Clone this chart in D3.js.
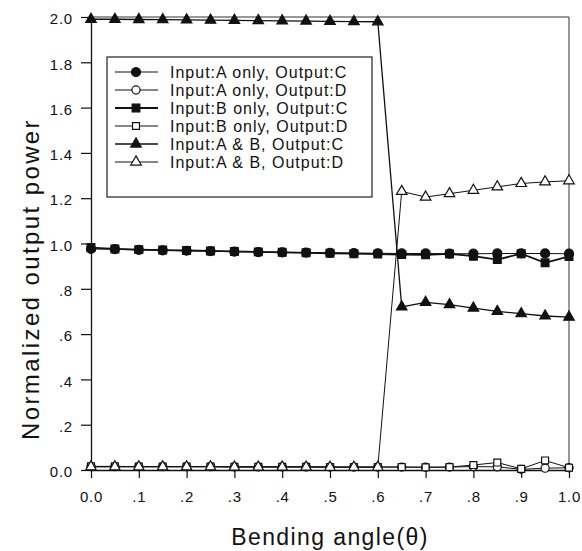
<!DOCTYPE html>
<html>
<head>
<meta charset="utf-8">
<script src="https://cdn.jsdelivr.net/npm/d3@7"></script>
<style>
  html, body { margin: 0; padding: 0; background: #fff; }
  svg text { font-family: "Liberation Sans", Arial, sans-serif; fill: #111; }
</style>
</head>
<body>
<svg id="chart" width="582" height="551"></svg>
<script>
// Bending angle (θ) samples
const angles = [0.00, 0.05, 0.10, 0.15, 0.20, 0.25, 0.30, 0.35, 0.40, 0.45, 0.50,
                0.55, 0.60, 0.65, 0.70, 0.75, 0.80, 0.85, 0.90, 0.95, 1.00];

// Normalized output power for each input/output combination
const aOnlyC = [0.976, 0.975, 0.972, 0.970, 0.968, 0.966, 0.964, 0.962, 0.961, 0.960, 0.959,
                0.958, 0.957, 0.956, 0.956, 0.955, 0.955, 0.956, 0.956, 0.956, 0.955];
const aOnlyD = [0.015, 0.015, 0.015, 0.015, 0.015, 0.015, 0.014, 0.014, 0.014, 0.014, 0.013,
                0.013, 0.013, 0.013, 0.012, 0.013, 0.015, 0.014, 0.003, 0.008, 0.010];
const bOnlyC = [0.982, 0.976, 0.973, 0.971, 0.969, 0.967, 0.965, 0.963, 0.961, 0.959, 0.957,
                0.955, 0.953, 0.951, 0.950, 0.954, 0.944, 0.929, 0.955, 0.915, 0.943];
const bOnlyD = [0.016, 0.016, 0.015, 0.015, 0.015, 0.015, 0.014, 0.014, 0.014, 0.014, 0.013,
                0.013, 0.013, 0.013, 0.012, 0.013, 0.022, 0.033, 0.005, 0.042, 0.010];
const abC    = [1.990, 1.990, 1.989, 1.988, 1.987, 1.986, 1.985, 1.984, 1.983, 1.982, 1.981,
                1.980, 1.979, 0.720, 0.740, 0.730, 0.715, 0.700, 0.690, 0.680, 0.675];
const abD    = [0.014, 0.014, 0.014, 0.014, 0.014, 0.014, 0.013, 0.013, 0.013, 0.013, 0.012,
                0.012, 0.012, 1.230, 1.205, 1.220, 1.235, 1.250, 1.265, 1.272, 1.277];

const seriesNames = ["Input:A only, Output:C", "Input:A only, Output:D",
                     "Input:B only, Output:C", "Input:B only, Output:D",
                     "Input:A & B, Output:C",  "Input:A & B, Output:D"];
const seriesValues = [aOnlyC, aOnlyD, bOnlyC, bOnlyD, abC, abD];

// Tick values and their printed labels
const xTicks = [0, 0.1, 0.2, 0.3, 0.4, 0.5, 0.6, 0.7, 0.8, 0.9, 1.0];
const xTickLabels = ["0.0", ".1", ".2", ".3", ".4", ".5", ".6", ".7", ".8", ".9", "1.0"];
const yTicks = [0, 0.2, 0.4, 0.6, 0.8, 1.0, 1.2, 1.4, 1.6, 1.8, 2.0];
const yTickLabels = ["0.0", ".2", ".4", ".6", ".8", "1.0", "1.2", "1.4", "1.6", "1.8", "2.0"];

const xTitle = "Bending angle(θ)";
const yTitle = "Normalized output power";

// Marker style per series
const markerStyle = [
  { shape: d3.symbolCircle,   size: 64, filled: true,  lw: 1.1 },
  { shape: d3.symbolCircle,   size: 52, filled: false, lw: 1.0 },
  { shape: d3.symbolSquare,   size: 60, filled: true,  lw: 1.8 },
  { shape: d3.symbolSquare,   size: 48, filled: false, lw: 1.0 },
  { shape: d3.symbolTriangle, size: 48, filled: true,  lw: 1.3 },
  { shape: d3.symbolTriangle, size: 48, filled: false, lw: 1.0 }
];

const svg = d3.select("#chart");
const plotLeft = 91, plotRight = 569, plotTop = 17, plotBottom = 470;

const x = d3.scaleLinear().domain([0, 1]).range([plotLeft, plotRight]);
const y = d3.scaleLinear().domain([0, 2]).range([plotBottom, plotTop]);

// Frame (top and right edges)
svg.append("path")
  .attr("d", `M${x(0)},${y(2)}H${x(1)}V${y(0)}`)
  .attr("fill", "none").attr("stroke", "#333").attr("stroke-width", 1);

// Axes
const yAxis = d3.axisLeft(y).tickValues(yTicks)
  .tickFormat((d, i) => yTickLabels[i]).tickSize(10).tickSizeOuter(0).tickPadding(6);
const gy = svg.append("g").attr("transform", `translate(${plotLeft},0)`).call(yAxis);

const xAxis = d3.axisBottom(x).tickValues(xTicks)
  .tickFormat((d, i) => xTickLabels[i]).tickSize(8).tickSizeOuter(0).tickPadding(13);
const gx = svg.append("g").attr("transform", `translate(0,${plotBottom})`).call(xAxis);

[gx, gy].forEach(g => {
  g.select(".domain").attr("stroke", "#111").attr("stroke-width", 1.3);
  g.selectAll(".tick line").attr("stroke", "#111").attr("stroke-width", 1.2);
  g.selectAll(".tick text").attr("font-size", 15).attr("letter-spacing", "0.8px")
    .attr("font-family", "Liberation Sans, Arial, sans-serif").attr("fill", "#111");
});
gy.selectAll(".tick text").attr("dx", "-2").attr("dy", "0.45em");

// Series lines
const line = d3.line().x((d, i) => x(angles[i])).y(d => y(d));
seriesValues.forEach((vals, s) => {
  svg.append("path").datum(vals)
    .attr("d", line)
    .attr("fill", "none").attr("stroke", "#111")
    .attr("stroke-width", markerStyle[s].lw);
});

// Series markers
seriesValues.forEach((vals, s) => {
  const st = markerStyle[s];
  svg.append("g").selectAll("path").data(vals).join("path")
    .attr("transform", (d, i) => `translate(${x(angles[i])},${y(d)})`)
    .attr("d", d3.symbol().type(st.shape).size(st.size))
    .attr("fill", st.filled ? "#111" : "#fff")
    .attr("stroke", "#111").attr("stroke-width", 1.2);
});

// Legend
const legend = svg.append("g");
legend.append("rect")
  .attr("x", 107).attr("y", 57).attr("width", 265).attr("height", 140)
  .attr("fill", "#fff").attr("stroke", "#222").attr("stroke-width", 1.2);
seriesNames.forEach((name, s) => {
  const st = markerStyle[s];
  const ry = 72 + s * 18;
  legend.append("line").attr("x1", 115).attr("x2", 158).attr("y1", ry).attr("y2", ry)
    .attr("stroke", "#111").attr("stroke-width", st.lw);
  legend.append("path")
    .attr("transform", `translate(136,${ry})`)
    .attr("d", d3.symbol().type(st.shape).size(st.size))
    .attr("fill", st.filled ? "#111" : "#fff")
    .attr("stroke", "#111").attr("stroke-width", 1.2);
  legend.append("text").attr("x", 170).attr("y", ry).attr("dy", "0.36em")
    .attr("font-size", 16).attr("letter-spacing", "1.0px").text(name);
});

// Axis titles
svg.append("text").attr("x", (plotLeft + plotRight) / 2).attr("y", 545)
  .attr("text-anchor", "middle").attr("font-size", 23).attr("letter-spacing", "1.4px")
  .text(xTitle);
svg.append("text")
  .attr("transform", `translate(39,279) rotate(-90)`)
  .attr("text-anchor", "middle").attr("font-size", 24).attr("letter-spacing", "2.4px")
  .text(yTitle);
</script>
</body>
</html>
